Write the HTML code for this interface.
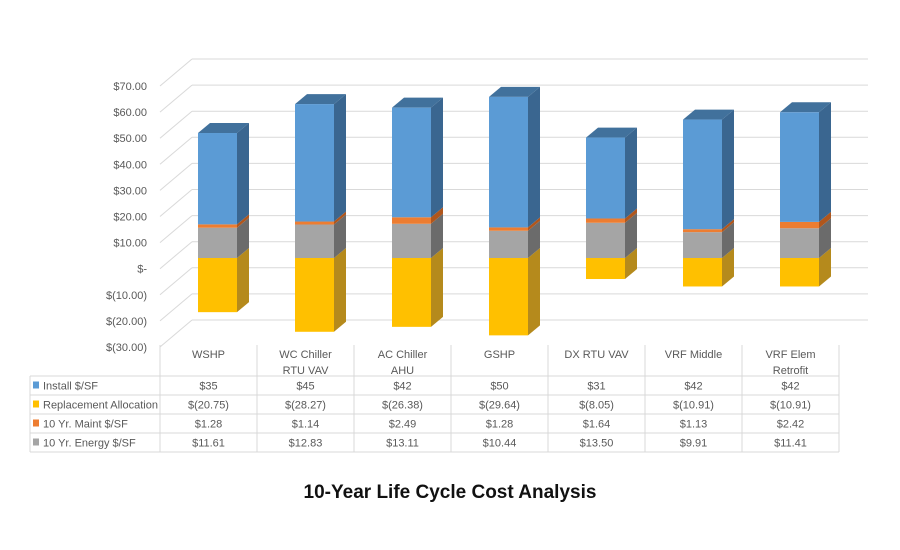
<!DOCTYPE html>
<html><head><meta charset="utf-8">
<style>
body{margin:0;background:#fff;}
svg{display:block;font-family:"Liberation Sans",sans-serif;}
</style></head>
<body>
<svg id="chart" width="900" height="550" viewBox="0 0 900 550">
<g id="grid"></g>
<g id="axis"></g>
<g id="bars"></g>
<g id="table"></g>
<text x="450" y="498" text-anchor="middle" font-size="19" font-weight="bold" fill="#111">10-Year Life Cycle Cost Analysis</text>
</svg>
<script>
const categories = ["WSHP","WC Chiller|RTU VAV","AC Chiller|AHU","GSHP","DX RTU VAV","VRF Middle","VRF Elem|Retrofit"];
const install = [35,45,42,50,31,42,42];
const replacement = [-20.75,-28.27,-26.38,-29.64,-8.05,-10.91,-10.91];
const maint = [1.28,1.14,2.49,1.28,1.64,1.13,2.42];
const energy = [11.61,12.83,13.11,10.44,13.50,9.91,11.41];
const installLbl = ["$35","$45","$42","$50","$31","$42","$42"];
const replLbl = ["$(20.75)","$(28.27)","$(26.38)","$(29.64)","$(8.05)","$(10.91)","$(10.91)"];
const maintLbl = ["$1.28","$1.14","$2.49","$1.28","$1.64","$1.13","$2.42"];
const energyLbl = ["$11.61","$12.83","$13.11","$10.44","$13.50","$9.91","$11.41"];
const ticks = [70,60,50,40,30,20,10,0,-10,-20,-30];
const tickLbl = ["$70.00","$60.00","$50.00","$40.00","$30.00","$20.00","$10.00","$-","$(10.00)","$(20.00)","$(30.00)"];

const NS="http://www.w3.org/2000/svg";
function mk(tag,attrs,parent){const e=document.createElementNS(NS,tag);for(const k in attrs)e.setAttribute(k,attrs[k]);parent.appendChild(e);return e;}
const K=2.61;
const yBack=v=>241.7-v*K;
const yBar=v=>258-v*K;
const xBar=i=>198+97*i;
const BW=39,DX=12,DY=-10;

const grid=document.getElementById('grid');
ticks.forEach((t,i)=>{
  const y=yBack(t);
  const l=mk('line',{x1:192,y1:y,x2:868,y2:y,stroke:'#d9d9d9','stroke-width':1},grid);
  
  
  const d=mk('line',{x1:160,y1:y+27,x2:192,y2:y,stroke:'#d9d9d9','stroke-width':1},grid);
  
  
});
const axis=document.getElementById('axis');
ticks.forEach((t,i)=>{
  const tx=mk('text',{x:147,y:yBack(t)+27+4,'text-anchor':'end','font-size':11,fill:'#595959'},axis);
  tx.textContent=tickLbl[i];
  
  
});

const bars=document.getElementById('bars');
function box(i,v0,v1,front,side,top,name,showTop){
  const x=xBar(i), ya=yBar(Math.max(v0,v1)), yb=yBar(Math.min(v0,v1));
  const g=mk('g',{},bars);
  
  
  mk('polygon',{points:`${x+BW},${ya} ${x+BW+DX},${ya+DY} ${x+BW+DX},${yb+DY} ${x+BW},${yb}`,fill:side},g);
  if(showTop) mk('polygon',{points:`${x},${ya} ${x+DX},${ya+DY} ${x+BW+DX},${ya+DY} ${x+BW},${ya}`,fill:top},g);
  mk('rect',{x:x,y:ya,width:BW,height:yb-ya,fill:front},g);
}
for(let i=0;i<categories.length;i++){
  box(i,replacement[i],0,'#ffc000','#b58a1c','#ffd24d','bar-replacement',false);
  box(i,0,energy[i],'#a5a5a5','#6b6b6b','#bdbdbd','bar-energy',false);
  const m0=energy[i],m1=m0+maint[i];
  box(i,m0,m1,'#ed7d31','#b0561c','#f09a5c','bar-maint',false);
  box(i,m1,m1+install[i],'#5b9bd5','#3a6690','#41719c','bar-install',true);
}

const tb=document.getElementById('table');
const colX=[160,257,354,451,548,645,742,839];
const rowY=[345,376,395,414,433,452];
// vertical lines
colX.forEach((x,i)=>{const l=mk('line',{x1:x,y1:i==0?345:345,x2:x,y2:452,stroke:'#d9d9d9'},tb);});
mk('line',{x1:30,y1:376,x2:30,y2:452,stroke:'#d9d9d9'},tb);
rowY.slice(1).forEach(y=>{const l=mk('line',{x1:30,y1:y,x2:839,y2:y,stroke:'#d9d9d9'},tb);});
categories.forEach((c,i)=>{
  const parts=c.split('|');
  parts.forEach((p,j)=>{
    const t=mk('text',{x:(colX[i]+colX[i+1])/2,y:358+j*16,'text-anchor':'middle','font-size':11,fill:'#595959'},tb);
    t.textContent=p;
    
    
  });
});
const rows=[["Install $/SF","#5b9bd5",installLbl],["Replacement Allocation","#ffc000",replLbl],["10 Yr. Maint $/SF","#ed7d31",maintLbl],["10 Yr. Energy $/SF","#a5a5a5",energyLbl]];
rows.forEach((r,ri)=>{
  const yc=(rowY[ri+1]+rowY[ri+2])/2;
  const sw=mk('rect',{x:33,y:yc-4,width:6,height:7,fill:r[1]},tb);
  
  
  const t=mk('text',{x:43,y:yc+4,'font-size':11,fill:'#595959'},tb);
  t.textContent=r[0];
  
  
  r[2].forEach((v,i)=>{
    const c=mk('text',{x:(colX[i]+colX[i+1])/2,y:yc+4,'text-anchor':'middle','font-size':11,fill:'#595959'},tb);
    c.textContent=v;
    
    
  });
});
</script>
</body></html>
